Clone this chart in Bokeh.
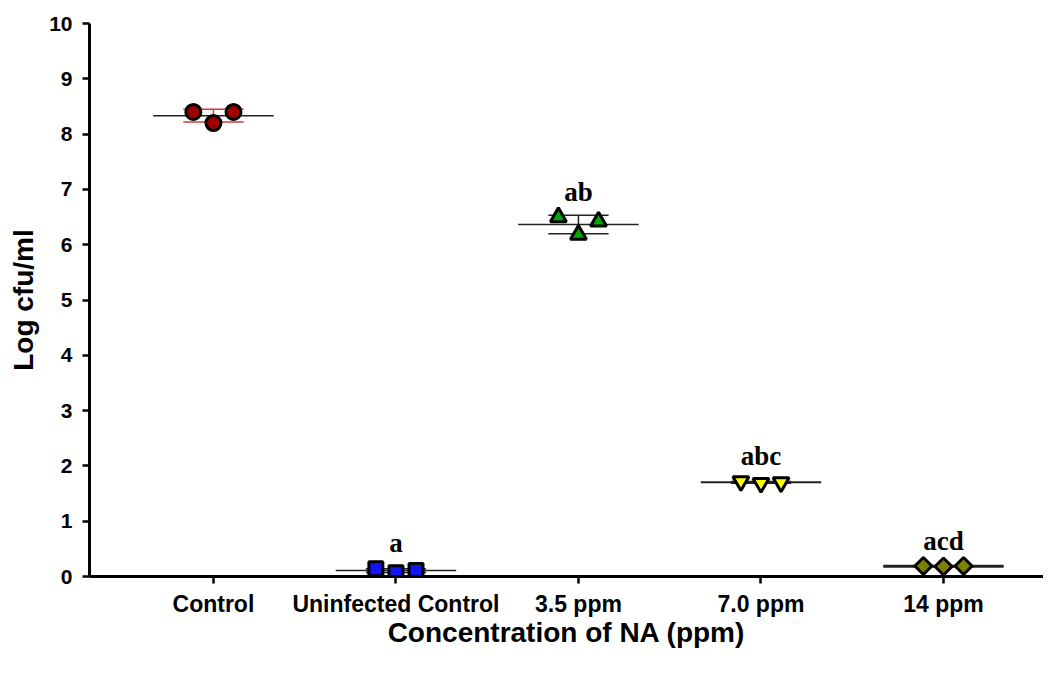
import numpy as np
from bokeh.plotting import figure
from bokeh.models import Range1d, FixedTicker, ColumnDataSource
from bokeh.core.properties import value
from bokeh.embed import file_html
from bokeh.resources import INLINE

# ---- data ----
categories = ["Control", "Uninfected Control", "3.5 ppm", "7.0 ppm", "14 ppm"]
control = [8.40, 8.20, 8.40]
uninfected = [0.14, 0.07, 0.11]
ppm_3_5 = [6.50, 6.18, 6.42]
ppm_7_0 = [1.72, 1.69, 1.70]
ppm_14 = [0.19, 0.18, 0.19]
letters = ["", "a", "ab", "abc", "acd"]
y_ticks = list(range(0, 11))

groups = [control, uninfected, ppm_3_5, ppm_7_0, ppm_14]

# ---- styles ----
markers = ["circle", "square", "triangle", "inverted_triangle", "square"]
angles = [0, 0, 0, 0, np.pi / 4]
fills = ["#9E0000", "#1414F0", "#00A800", "#FFFF00", "#808000"]
sizes = [15, 14, 16, 16, 12]
err_colors = ["#D03A3A", "#222222", "#222222", "#222222", "#111111"]
mean_widths = [1.5, 1.5, 1.5, 2, 3]
jitter = [-0.11, 0.0, 0.11]
mean_half = 0.33
cap_half = 0.165

p = figure(width=1043, height=659, output_backend="svg", toolbar_location=None,
           x_range=Range1d(-0.679, 4.548), y_range=Range1d(0, 10),
           min_border_left=89, min_border_right=0, min_border_top=23,
           min_border_bottom=83)
p.outline_line_color = None
p.grid.visible = False
p.background_fill_color = "white"

for i, vals in enumerate(groups):
    vals = np.array(vals)
    m = vals.mean()
    sd = vals.std(ddof=1)
    # mean line
    p.segment(x0=[i - mean_half], x1=[i + mean_half], y0=[m], y1=[m],
              line_color="#222222", line_width=mean_widths[i])
    # SD error bars
    p.segment(x0=[i, i - cap_half, i - cap_half], x1=[i, i + cap_half, i + cap_half],
              y0=[m - sd, m + sd, m - sd], y1=[m + sd, m + sd, m - sd],
              line_color=err_colors[i], line_width=1.5)
    src = ColumnDataSource(dict(x=[i + j for j in jitter], y=list(vals)))
    p.scatter("x", "y", source=src, marker=markers[i], size=sizes[i],
              angle=angles[i], fill_color=fills[i], line_color="black",
              line_width=3)
    if letters[i]:
        p.text(x=[i], y=[vals.max() + 0.46], text=[letters[i]],
               text_font=value("Liberation Serif"), text_font_style="bold",
               text_font_size="27px", text_align="center",
               text_baseline="middle", text_color="black")

for ax in (p.xaxis[0], p.yaxis[0]):
    ax.axis_line_width = 3
    ax.axis_line_color = "black"
    ax.major_tick_line_width = 2.5
    ax.major_tick_line_color = "black"
    ax.major_tick_out = 7
    ax.major_tick_in = 0
    ax.minor_tick_line_color = None
    ax.major_label_text_font = "Liberation Sans"
    ax.major_label_text_font_style = "bold"
    ax.major_label_text_color = "black"
    ax.axis_label_text_font = "Liberation Sans"
    ax.axis_label_text_font_style = "bold"
    ax.axis_label_text_color = "black"
    ax.axis_label_text_font_size = "28px"

p.xaxis.ticker = FixedTicker(ticks=list(range(len(categories))))
p.xaxis.major_label_overrides = {i: c for i, c in enumerate(categories)}
p.xaxis.major_label_text_font_size = "23px"
p.xaxis.major_label_standoff = 7
p.xaxis.axis_label = "Concentration of NA (ppm)"
p.xaxis.axis_label_standoff = -3

p.yaxis.ticker = FixedTicker(ticks=y_ticks)
p.yaxis.major_label_text_font_size = "21px"
p.yaxis.major_label_standoff = 10
p.yaxis.axis_label = "Log cfu/ml"
p.yaxis.axis_label_standoff = 7

open("out.html", "w").write(file_html(p, INLINE))
